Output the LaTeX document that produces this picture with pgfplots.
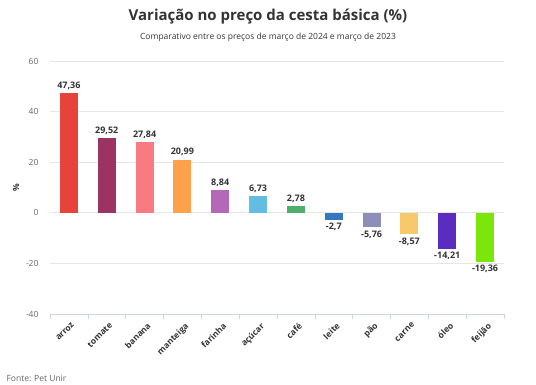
\documentclass[border=0pt]{standalone}
\usepackage{pgfplots}
\pgfplotsset{compat=1.18}
\usepackage{fontspec}
\setmainfont{Open Sans}
\definecolor{c1}{HTML}{E8433B}
\definecolor{c2}{HTML}{9B3462}
\definecolor{c3}{HTML}{F77B80}
\definecolor{c4}{HTML}{FFA14A}
\definecolor{c5}{HTML}{B469B8}
\definecolor{c6}{HTML}{63BDE0}
\definecolor{c7}{HTML}{4FAE6A}
\definecolor{c8}{HTML}{3478C0}
\definecolor{c9}{HTML}{8E8FB8}
\definecolor{c10}{HTML}{F8C96A}
\definecolor{c11}{HTML}{5B2CC0}
\definecolor{c12}{HTML}{7AE60A}
\definecolor{txt}{HTML}{333333}
\definecolor{grd}{HTML}{E6E6E6}
\definecolor{axl}{HTML}{CCD6EB}
\begin{document}
\begin{tikzpicture}[x=1pt,y=1pt]
\path (-50,-71) rectangle (486,314);
\node[font=\bfseries\fontsize{15}{16}\selectfont, text=txt] at (218,297) {Variação no preço da cesta básica (\%)};
\node[font=\fontsize{8.5}{9}\selectfont, text=txt] at (218,277) {Comparativo entre os preços de março de 2024 e março de 2023};
\node[font=\fontsize{8.5}{9}\selectfont, text=gray!80!black, anchor=west] at (-47,-64) {Fonte: Pet Unir};
\begin{axis}[
  at={(0,0)}, anchor=south west,
  scale only axis, width=454pt, height=253pt,
  ybar, bar width=18pt, bar shift=0pt,
  xmin=-0.5, xmax=11.5, ymin=-40, ymax=60,
  ytick={-40,-20,0,20,40,60},
  ymajorgrids, grid style={grd, line width=0.6pt},
  axis y line*=left,
  y axis line style={draw=none},
  major y tick style={draw=none},
  axis x line*=bottom,
  x axis line style={axl, line width=0.6pt, -},
  xtick={0,...,11},
  xticklabels={arroz,tomate,banana,manteiga,farinha,açúcar,café,leite,pão,carne,óleo,feijão},
  major x tick style={draw=none},
  minor xtick={-0.5,0.5,...,11.5},
  minor x tick style={axl, line width=0.6pt},
  minor tick length=5pt,
  x tick label style={rotate=45, anchor=north east, font=\bfseries\fontsize{8.5}{9}\selectfont, text=txt, inner sep=1pt, yshift=-3pt},
  y tick label style={font=\fontsize{8.5}{9}\selectfont, text=gray!80!black, xshift=-8pt},
  ylabel={\%}, ylabel style={font=\bfseries\fontsize{8.5}{9}\selectfont, text=txt},
  /pgf/number format/assume math mode=true,
  nodes near coords,
  nodes near coords style={font=\bfseries\fontsize{9}{10}\selectfont, text=txt, /pgf/number format/.cd, fixed, precision=2, use comma, assume math mode=true},
  clip=false,
]
\addplot[fill=c1, draw=none] coordinates {(0,47.36)};
\addplot[fill=c2, draw=none] coordinates {(1,29.52)};
\addplot[fill=c3, draw=none] coordinates {(2,27.84)};
\addplot[fill=c4, draw=none] coordinates {(3,20.99)};
\addplot[fill=c5, draw=none] coordinates {(4,8.84)};
\addplot[fill=c6, draw=none] coordinates {(5,6.73)};
\addplot[fill=c7, draw=none] coordinates {(6,2.78)};
\addplot[fill=c8, draw=none] coordinates {(7,-2.7)};
\addplot[fill=c9, draw=none] coordinates {(8,-5.76)};
\addplot[fill=c10, draw=none] coordinates {(9,-8.57)};
\addplot[fill=c11, draw=none] coordinates {(10,-14.21)};
\addplot[fill=c12, draw=none] coordinates {(11,-19.36)};
\end{axis}
\end{tikzpicture}
\end{document}
